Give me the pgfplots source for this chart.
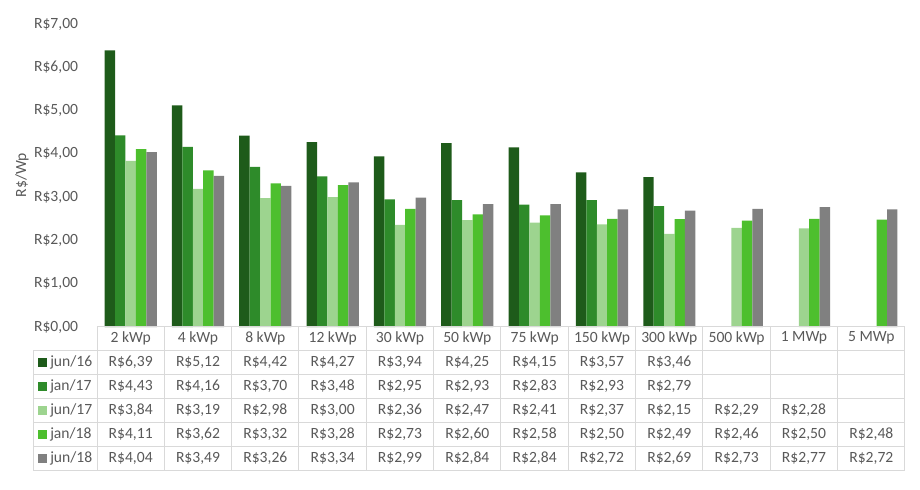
\documentclass[border=0pt]{standalone}
\usepackage{pgfplots}
\pgfplotsset{compat=1.18}
\usepackage{fontspec}
\setmainfont{Carlito}
\definecolor{cA}{HTML}{1E5B1A}
\definecolor{cB}{HTML}{2E8B2A}
\definecolor{cC}{HTML}{9DD48F}
\definecolor{cD}{HTML}{4DBF2E}
\definecolor{cE}{HTML}{808080}
\definecolor{txt}{HTML}{595959}
\definecolor{grid}{HTML}{D9D9D9}
\newcommand\tf{\fontsize{11.7pt}{14pt}\selectfont}
\begin{document}
\begin{tikzpicture}
\begin{axis}[
  at={(72.75pt,-245.25pt)}, anchor=south west,
  scale only axis, width=606pt, height=227.25pt,
  xmin=-0.5, xmax=11.5, ymin=0, ymax=7,
  axis line style={draw=none}, tick style={draw=none},
  xtick=\empty, ytick={0,1,2,3,4,5,6,7},
  yticklabels={{R\$0,00},{R\$1,00},{R\$2,00},{R\$3,00},{R\$4,00},{R\$5,00},{R\$6,00},{R\$7,00}},
  yticklabel style={font=\tf, text=txt, anchor=east, inner sep=0pt, xshift=-14pt},
  ybar=0pt, bar width=0.155,
  clip=false,
]
\addplot[fill=cA, draw=none] coordinates {(0,6.39)(1,5.12)(2,4.42)(3,4.27)(4,3.94)(5,4.25)(6,4.15)(7,3.57)(8,3.46)};
\addplot[fill=cB, draw=none] coordinates {(0,4.43)(1,4.16)(2,3.70)(3,3.48)(4,2.95)(5,2.93)(6,2.83)(7,2.93)(8,2.79)};
\addplot[fill=cC, draw=none] coordinates {(0,3.84)(1,3.19)(2,2.98)(3,3.00)(4,2.36)(5,2.47)(6,2.41)(7,2.37)(8,2.15)(9,2.29)(10,2.28)};
\addplot[fill=cD, draw=none] coordinates {(0,4.11)(1,3.62)(2,3.32)(3,3.28)(4,2.73)(5,2.60)(6,2.58)(7,2.50)(8,2.49)(9,2.46)(10,2.50)(11,2.48)};
\addplot[fill=cE, draw=none] coordinates {(0,4.04)(1,3.49)(2,3.26)(3,3.34)(4,2.99)(5,2.84)(6,2.84)(7,2.72)(8,2.69)(9,2.73)(10,2.77)(11,2.72)};
\end{axis}
\begin{scope}[x=0.75pt, y=-0.75pt]
\path[use as bounding box] (0,0) rectangle (920,489);
\node[font=\tf, text=txt, rotate=90] at (22,175) {R\$/Wp};
% grid
\draw[grid, line width=0.75pt] (97,326) -- (905,326);
\foreach \yy in {350,374,398,422,446,470} \draw[grid, line width=0.75pt] (33,\yy) -- (905,\yy);
\draw[grid, line width=0.75pt] (33,350) -- (33,470);
\foreach \k in {0,...,12} \draw[grid, line width=0.75pt] ({97+\k*67.33},326) -- ({97+\k*67.33},470);
% header
\foreach \h [count=\i from 0] in {2 kWp,4 kWp,8 kWp,12 kWp,30 kWp,50 kWp,75 kWp,150 kWp,300 kWp,500 kWp,1 MWp,5 MWp}
  \node[font=\tf, text=txt] at ({97+(\i+0.5)*67.33},338) {\h};
% legend column
\foreach \c/\n [count=\r from 0] in {cA/jun\slash 16,cB/jan\slash 17,cC/jun\slash 17,cD/jan\slash 18,cE/jun\slash 18}{
  \fill[\c] (38,{357.5+\r*24}) rectangle (47,{366.5+\r*24});
  \node[font=\tf, text=txt, anchor=west, inner sep=0pt] at (50,{362+\r*24}) {\n};
}
% values
\foreach \v [count=\i from 0] in {{6,39},{5,12},{4,42},{4,27},{3,94},{4,25},{4,15},{3,57},{3,46}}
  \node[font=\tf, text=txt] at ({97+(\i+0.5)*67.33},362) {R\$\v};
\foreach \v [count=\i from 0] in {{4,43},{4,16},{3,70},{3,48},{2,95},{2,93},{2,83},{2,93},{2,79}}
  \node[font=\tf, text=txt] at ({97+(\i+0.5)*67.33},386) {R\$\v};
\foreach \v [count=\i from 0] in {{3,84},{3,19},{2,98},{3,00},{2,36},{2,47},{2,41},{2,37},{2,15},{2,29},{2,28}}
  \node[font=\tf, text=txt] at ({97+(\i+0.5)*67.33},410) {R\$\v};
\foreach \v [count=\i from 0] in {{4,11},{3,62},{3,32},{3,28},{2,73},{2,60},{2,58},{2,50},{2,49},{2,46},{2,50},{2,48}}
  \node[font=\tf, text=txt] at ({97+(\i+0.5)*67.33},434) {R\$\v};
\foreach \v [count=\i from 0] in {{4,04},{3,49},{3,26},{3,34},{2,99},{2,84},{2,84},{2,72},{2,69},{2,73},{2,77},{2,72}}
  \node[font=\tf, text=txt] at ({97+(\i+0.5)*67.33},458) {R\$\v};
\end{scope}
\end{tikzpicture}
\end{document}
